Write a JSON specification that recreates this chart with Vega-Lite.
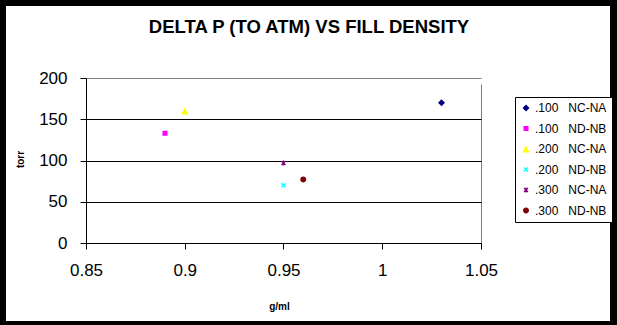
{
  "$schema": "https://vega.github.io/schema/vega-lite/v6.json",
  "width": 604,
  "height": 315,
  "autosize": {"type": "none"},
  "padding": {"left": 6, "top": 6, "right": 7, "bottom": 4},
  "background": "black",
  "config": {
    "view": {"fill": "white", "stroke": null},
    "font": "Liberation Sans",
    "legend": {
      "orient": "none",
      "legendX": 509,
      "legendY": 91,
      "padding": 5,
      "strokeColor": "black",
      "strokeWidth": 1,
      "fillColor": "white",
      "labelFont": "Liberation Sans",
      "labelFontSize": 12,
      "labelColor": "black",
      "rowPadding": 8.5,
      "symbolSize": 49,
      "labelOffset": 3,
      "symbolStrokeWidth": 0,
      "labelLimit": 200
    }
  },
  "title": {
    "text": "DELTA P (TO ATM) VS FILL DENSITY",
    "font": "Liberation Sans",
    "fontSize": 18.5,
    "fontWeight": "bold",
    "color": "black",
    "anchor": "middle",
    "frame": "group",
    "offset": -27,
    "baseline": "alphabetic",
    "dx": 1,
    "dy": 18
  },
  "data": {
    "values": [
      {"series": ".100 NC-NA", "density": 1.03, "torr": 170},
      {"series": ".100 ND-NB", "density": 0.89, "torr": 133},
      {"series": ".200 NC-NA", "density": 0.90, "torr": 160},
      {"series": ".200 ND-NB", "density": 0.95, "torr": 70},
      {"series": ".300 NC-NA", "density": 0.95, "torr": 97},
      {"series": ".300 ND-NB", "density": 0.96, "torr": 77}
    ]
  },
  "mark": {"type": "point", "filled": true, "opacity": 1, "size": 49, "strokeWidth": 0},
  "encoding": {
    "x": {
      "field": "density",
      "type": "quantitative",
      "scale": {"domain": [0.85, 1.05], "range": [80, 475], "nice": false, "zero": false},
      "axis": {
        "offset": -78,
        "values": [0.85, 0.9, 0.95, 1, 1.05],
        "format": ".3~g",
        "domainColor": "black",
        "tickColor": "black",
        "tickSize": 6,
        "labelFont": "Liberation Sans",
        "labelFontSize": 17,
        "labelColor": "black",
        "labelBaseline": "alphabetic",
        "labelPadding": 26,
        "labelFlush": false,
        "labelOverlap": false,
        "grid": true,
        "gridColor": "#808080",
        "gridOpacity": {"condition": {"test": "datum.value > 1.04", "value": 1}, "value": 0},
        "title": "g/ml",
        "titleFont": "Liberation Sans",
        "titleFontSize": 10,
        "titleFontWeight": "bold",
        "titleColor": "black",
        "titleBaseline": "middle",
        "titleX": 273,
        "titleY": 63
      }
    },
    "y": {
      "field": "torr",
      "type": "quantitative",
      "scale": {"domain": [0, 200], "range": [237, 72], "nice": false, "zero": true},
      "axis": {
        "offset": -80,
        "values": [0, 50, 100, 150, 200],
        "domainColor": "black",
        "tickColor": "black",
        "tickSize": 6,
        "labelFont": "Liberation Sans",
        "labelFontSize": 17,
        "labelColor": "black",
        "labelPadding": 13,
        "labelFlush": false,
        "labelOverlap": false,
        "grid": true,
        "gridColor": {"condition": {"test": "datum.value >= 200", "value": "#808080"}, "value": "black"},
        "title": "torr",
        "titleFont": "Liberation Sans",
        "titleFontSize": 10,
        "titleFontWeight": "bold",
        "titleColor": "black",
        "titleAngle": -90,
        "titleBaseline": "middle",
        "titleX": -66,
        "titleY": 153
      }
    },
    "color": {
      "field": "series",
      "type": "nominal",
      "scale": {
        "domain": [".100 NC-NA", ".100 ND-NB", ".200 NC-NA", ".200 ND-NB", ".300 NC-NA", ".300 ND-NB"],
        "range": ["#000080", "#FF00FF", "#FFFF00", "#00FFFF", "#800080", "#800000"]
      },
      "legend": {"title": null, "labelExpr": "replace(datum.label, ' ', '\u00a0\u00a0\u00a0')"}
    },
    "shape": {
      "field": "series",
      "type": "nominal",
      "scale": {
        "domain": [".100 NC-NA", ".100 ND-NB", ".200 NC-NA", ".200 ND-NB", ".300 NC-NA", ".300 ND-NB"],
        "range": [
          "M0,-1L1,0L0,1L-1,0Z",
          "M-0.72,-0.72H0.72V0.72H-0.72Z",
          "M0,-1L1,1H-1Z",
          "M-0.42,-0.7L0,-0.28L0.42,-0.7L0.7,-0.42L0.28,0L0.7,0.42L0.42,0.7L0,0.28L-0.42,0.7L-0.7,0.42L-0.28,0L-0.7,-0.42Z",
          "M-0.42,-0.7L0,-0.28L0.42,-0.7L0.7,-0.42L0.28,0L0.7,0.42L0.42,0.7L0,0.28L-0.42,0.7L-0.7,0.42L-0.28,0L-0.7,-0.42ZM-0.15,-0.7H0.15V0.7H-0.15Z",
          "M-0.85,0A0.85,0.85,0,1,1,0.85,0A0.85,0.85,0,1,1,-0.85,0Z"
        ]
      },
      "legend": {"title": null, "labelExpr": "replace(datum.label, ' ', '\u00a0\u00a0\u00a0')"}
    }
  }
}
